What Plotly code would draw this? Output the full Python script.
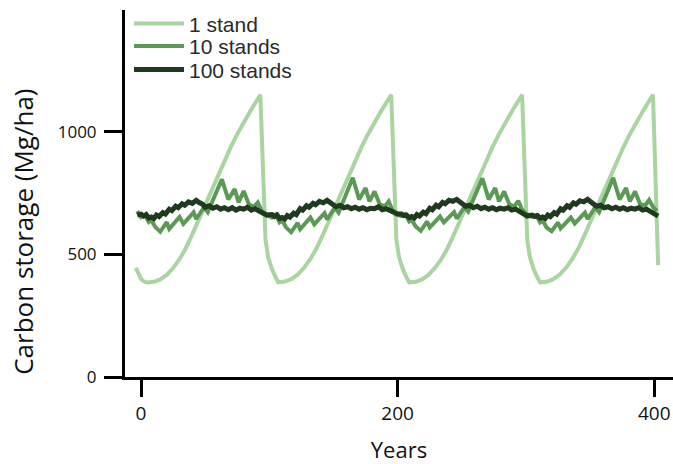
import plotly.graph_objects as go

# ---------------- data ----------------
series_names = ["1 stand", "10 stands", "100 stands"]

one_years = [-4, -2, 0, 2, 5,
             10, 15, 20, 25, 30, 35, 40, 45, 50, 55, 60, 65, 70, 75, 80, 85, 90, 93,
             94, 95, 96, 97, 99, 102, 105, 107,
             112, 117, 122, 127, 132, 137, 142, 147, 152, 157, 162, 167, 172, 177, 182, 187, 192, 195,
             196, 197, 198, 199, 201, 204, 207, 209,
             214, 219, 224, 229, 234, 239, 244, 249, 254, 259, 264, 269, 274, 279, 284, 289, 294, 297,
             298, 299, 300, 301, 303, 306, 309, 311,
             316, 321, 326, 331, 336, 341, 346, 351, 356, 361, 366, 371, 376, 381, 386, 391, 396, 399,
             400, 401, 402, 403]
one_values = [445, 418, 400, 390, 385,
              388, 398, 416, 444, 480, 526, 582, 642, 704, 766, 826, 884, 938, 990, 1038, 1082, 1125, 1150,
              1000, 820, 660, 560, 490, 440, 405, 386,
              389, 399, 417, 445, 481, 527, 583, 643, 705, 767, 827, 885, 939, 991, 1039, 1083, 1125, 1150,
              1000, 820, 660, 560, 490, 440, 405, 386,
              388, 398, 416, 444, 480, 526, 582, 642, 704, 766, 826, 884, 938, 990, 1038, 1082, 1125, 1150,
              1000, 820, 660, 560, 490, 440, 405, 386,
              388, 398, 416, 444, 480, 526, 582, 642, 704, 766, 826, 884, 938, 990, 1038, 1082, 1125, 1150,
              980, 780, 600, 456]

ten_years = [-3, 0, 3, 6, 8, 11, 15, 20, 22, 30, 33, 41, 43, 49, 52, 58, 63, 68, 73, 76, 80, 84, 88, 91, 94, 97,
             102, 105, 108, 110, 113, 117, 122, 124, 132, 135, 143, 145, 151, 154, 160, 165, 170, 175, 178, 182, 186, 190, 193, 196, 199,
             203, 206, 209, 211, 214, 218, 223, 225, 233, 236, 244, 246, 252, 255, 261, 266, 271, 276, 279, 283, 287, 291, 294, 297, 300,
             305, 308, 311, 313, 316, 320, 325, 327, 335, 338, 346, 348, 354, 357, 363, 368, 373, 378, 381, 385, 389, 393, 396, 399, 402]
ten_values = [676, 652, 660, 632, 640, 612, 592, 631, 604, 652, 624, 671, 644, 691, 672, 744, 806, 724, 766, 712, 758, 704, 694, 712, 676, 664,
              650, 662, 630, 638, 610, 590, 628, 602, 650, 622, 668, 642, 690, 670, 748, 812, 724, 770, 716, 756, 704, 696, 716, 680, 662,
              656, 664, 634, 640, 614, 596, 634, 610, 654, 630, 672, 646, 692, 674, 746, 810, 724, 770, 716, 756, 704, 696, 718, 682, 666,
              652, 660, 630, 638, 610, 594, 630, 606, 650, 626, 670, 644, 692, 672, 748, 812, 724, 770, 716, 756, 704, 700, 722, 694, 676]

hundred_years = [-3, 0, 2, 4, 6, 8, 10, 12, 14, 17, 19, 22, 24, 27, 29, 32, 34, 37, 40, 43, 45, 48, 50, 53, 56, 59, 62, 65, 68, 71, 74, 77, 80, 83, 86, 89, 92, 95, 98,
                 102, 104, 106, 108, 110, 112, 114, 116, 119, 121, 124, 126, 129, 131, 134, 136, 139, 142, 145, 147, 150, 152, 155, 158, 161, 164, 167, 170, 173, 176, 179, 182, 185, 188, 191, 194, 197, 200,
                 203, 205, 207, 209, 211, 213, 215, 217, 220, 222, 225, 227, 230, 232, 235, 237, 240, 243, 246, 248, 251, 253, 256, 259, 262, 265, 268, 271, 274, 277, 280, 283, 286, 289, 292, 295, 298, 301,
                 305, 307, 309, 311, 313, 315, 317, 319, 322, 324, 327, 329, 332, 334, 337, 339, 342, 345, 348, 350, 353, 355, 358, 361, 364, 367, 370, 373, 376, 379, 382, 385, 388, 391, 394, 397, 400, 403]
hundred_values = [660, 664, 656, 662, 648, 652, 646, 660, 654, 670, 664, 684, 678, 696, 690, 706, 700, 714, 708, 720, 712, 704, 692, 698, 688, 694, 684, 690, 682, 690, 680, 688, 684, 692, 680, 686, 676, 670, 660,
                  662, 654, 660, 646, 650, 644, 658, 652, 668, 662, 686, 680, 698, 692, 708, 702, 716, 710, 720, 714, 702, 694, 700, 690, 694, 686, 692, 684, 690, 682, 688, 686, 694, 682, 686, 678, 672, 664,
                  664, 658, 660, 650, 654, 648, 662, 656, 672, 666, 688, 682, 700, 694, 712, 706, 720, 716, 724, 716, 706, 696, 700, 690, 696, 686, 692, 684, 690, 682, 688, 684, 690, 680, 684, 674, 664, 656,
                  660, 654, 658, 648, 652, 646, 660, 654, 670, 664, 686, 680, 698, 692, 710, 704, 718, 714, 724, 716, 704, 696, 700, 690, 694, 686, 692, 684, 690, 682, 688, 684, 690, 680, 684, 674, 666, 656]

x_tick_values = [0, 200, 400]
y_tick_values = [0, 500, 1000]

assert len(one_years) == len(one_values)
assert len(ten_years) == len(ten_values)
assert len(hundred_years) == len(hundred_values)

# ---------------- styling ----------------
colors = ["#a8d5a0", "#5b9955", "#1f3a1f"]
widths = [4, 4, 5]
legend_keys = ["legend", "legend2", "legend3"]

fig = go.Figure()
for name, xs, ys, c, w, lg in zip(series_names,
                                 [one_years, ten_years, hundred_years],
                                 [one_values, ten_values, hundred_values],
                                 colors, widths, legend_keys):
    fig.add_trace(go.Scatter(x=xs, y=ys, mode="lines", name=name,
                             line=dict(color=c, width=w), legend=lg))

W, H = 673, 464
ml, mr, mt, mb = 125, 0, 10, 80
plot_w = W - ml - mr
plot_h = H - mt - mb

def ypaper(py):
    return (H - mb - py) / plot_h

def xpaper(px):
    return (px - ml) / plot_w

legend_common = dict(xanchor="left", yanchor="middle", x=xpaper(129),
                     bgcolor="rgba(0,0,0,0)", borderwidth=0,
                     font=dict(family="Liberation Sans, Arial, sans-serif", size=21, color="#2a2a2a"),
                     itemwidth=50, tracegroupgap=0)

fig.update_layout(
    width=W, height=H,
    margin=dict(l=ml, r=mr, t=mt, b=mb, pad=0),
    paper_bgcolor="white", plot_bgcolor="white",
    showlegend=True,
    legend=dict(**legend_common, y=ypaper(24)),
    legend2=dict(**legend_common, y=ypaper(47)),
    legend3=dict(**legend_common, y=ypaper(71)),
    font=dict(family="Open Sans, sans-serif", color="#111"),
    xaxis=dict(range=[-12.5, 414.6], tickvals=x_tick_values, ticks="outside",
               ticklen=17, tickwidth=3, tickcolor="black",
               showline=True, linewidth=3, linecolor="black", mirror=False,
               showgrid=False, zeroline=False, ticklabelstandoff=0,
               tickfont=dict(size=19, color="#111"),
               title=dict(text="Years", font=dict(size=22, color="#111"), standoff=23)),
    yaxis=dict(range=[0, 1496], tickvals=y_tick_values, ticks="outside",
               ticklen=18, tickwidth=3, tickcolor="black",
               showline=True, linewidth=3, linecolor="black",
               showgrid=False, zeroline=False, ticklabelstandoff=4,
               tickfont=dict(size=17, color="#111")),
    annotations=[dict(text="Carbon storage (Mg/ha)", textangle=-90,
                      xref="paper", yref="paper", x=xpaper(23), y=ypaper(236),
                      xanchor="center", yanchor="middle", showarrow=False,
                      font=dict(family="Open Sans, sans-serif", size=26, color="#111"))],
)

fig.write_html("out.html",
               config={"displayModeBar": False},
               post_script="document.body.style.margin='0';document.body.style.overflow='hidden';")
